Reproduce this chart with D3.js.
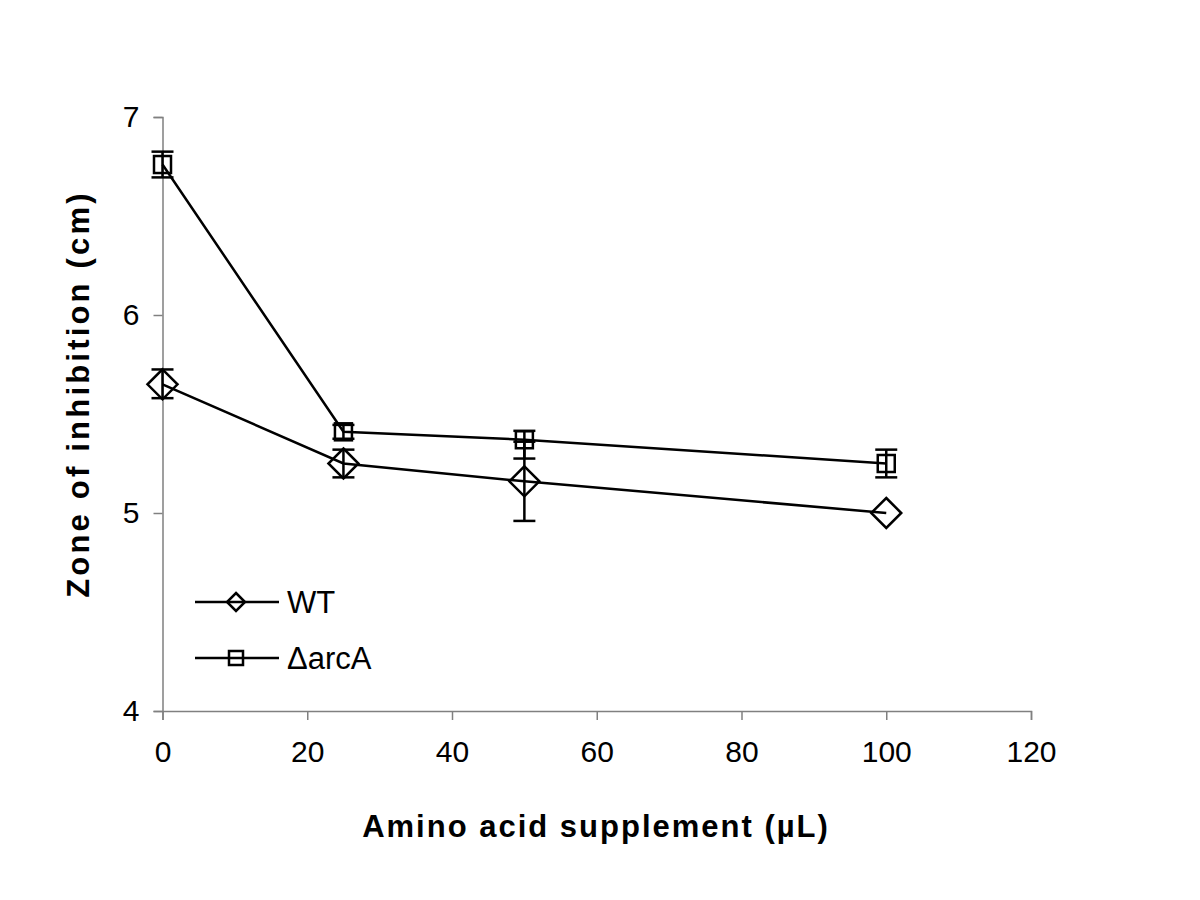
<!DOCTYPE html>
<html><head><meta charset="utf-8">
<script src="https://cdn.jsdelivr.net/npm/d3@7"></script>
<style>body{margin:0;background:#fff}</style>
</head><body>
<script>
const xValues = [0, 25, 50, 100];
const wtValues = [5.65, 5.25, 5.16, 5.00];
const wtErrPlus = [0.075, 0.07, 0.20, 0.0];
const wtErrMinus = [0.07, 0.07, 0.20, 0.0];
const arcValues = [6.76, 5.41, 5.37, 5.25];
const arcErrPlus = [0.065, 0.035, 0.045, 0.07];
const arcErrMinus = [0.065, 0.035, 0.095, 0.07];
const xTicks = [0, 20, 40, 60, 80, 100, 120];
const yTicks = [4, 5, 6, 7];
const seriesNames = ["WT", "\u0394arcA"];

const W = 1200, H = 900;
const svg = d3.select("body").append("svg").attr("width", W).attr("height", H);
const x = d3.scaleLinear().domain([0, 120]).range([162.5, 1031]);
const y = d3.scaleLinear().domain([4, 7]).range([711, 117]);
const font = "'Liberation Sans', Arial, sans-serif";
const axisColor = "#808080";

const xAxis = svg.append("g").attr("transform", "translate(0,711)")
  .call(d3.axisBottom(x).tickValues(xTicks).tickSize(9).tickPadding(21).tickFormat(d3.format("d")));
const yAxis = svg.append("g").attr("transform", "translate(162.5,0)")
  .call(d3.axisLeft(y).tickValues(yTicks).tickSize(9).tickPadding(14).tickFormat(d3.format("d")));
[xAxis, yAxis].forEach(g => {
  g.select(".domain").attr("stroke", axisColor).attr("stroke-width", 1.5);
  g.selectAll(".tick line").attr("stroke", axisColor).attr("stroke-width", 1.5);
  g.selectAll(".tick text").attr("fill", "#000").style("font-family", font).style("font-size", "30px");
});
xAxis.selectAll(".tick text").attr("dy", "0.71em");

svg.append("text").attr("x", 596).attr("y", 837).attr("text-anchor", "middle")
  .style("font-family", font).style("font-size", "31px").style("font-weight", "bold")
  .style("letter-spacing", "2px").text("Amino acid supplement (\u00b5L)");
svg.append("text").attr("transform", "translate(89,394) rotate(-90)").attr("text-anchor", "middle")
  .style("font-family", font).style("font-size", "31px").style("font-weight", "bold")
  .style("letter-spacing", "3.2px").text("Zone of inhibition (cm)");

const series = [
  {name: seriesNames[0], vals: wtValues, ep: wtErrPlus, em: wtErrMinus, marker: "diamond"},
  {name: seriesNames[1], vals: arcValues, ep: arcErrPlus, em: arcErrMinus, marker: "square"}
];
const line = d3.line().x(d => x(d[0])).y(d => y(d[1]));
const capHalf = 11;

function drawMarker(g, cx, cy, type, size) {
  if (type === "diamond") {
    g.append("path").attr("d", `M${cx},${cy - size}L${cx + size},${cy}L${cx},${cy + size}L${cx - size},${cy}Z`)
      .attr("fill", "none").attr("stroke", "#000").attr("stroke-width", 2.5);
  } else {
    g.append("rect").attr("x", cx - size).attr("y", cy - size).attr("width", 2 * size).attr("height", 2 * size)
      .attr("fill", "none").attr("stroke", "#000").attr("stroke-width", 2.5);
  }
}

series.forEach(s => {
  const pts = xValues.map((xv, i) => [xv, s.vals[i]]);
  svg.append("path").datum(pts).attr("d", line).attr("fill", "none").attr("stroke", "#000").attr("stroke-width", 2.5);
  const g = svg.append("g");
  pts.forEach((p, i) => {
    const cx = x(p[0]);
    const top = y(p[1] + s.ep[i]), bot = y(p[1] - s.em[i]);
    if (s.ep[i] > 0 || s.em[i] > 0) {
      g.append("line").attr("x1", cx).attr("x2", cx).attr("y1", top).attr("y2", bot).attr("stroke", "#000").attr("stroke-width", 2.5);
      [top, bot].forEach(yy => g.append("line").attr("x1", cx - capHalf).attr("x2", cx + capHalf)
        .attr("y1", yy).attr("y2", yy).attr("stroke", "#000").attr("stroke-width", 2.5));
    }
    drawMarker(g, cx, y(p[1]), s.marker, s.marker === "diamond" ? 15 : 8.5);
  });
});

// legend
const legY = [602, 658];
series.forEach((s, i) => {
  const ly = legY[i];
  svg.append("line").attr("x1", 195).attr("x2", 279).attr("y1", ly).attr("y2", ly).attr("stroke", "#000").attr("stroke-width", 2.5);
  drawMarker(svg, 236, ly, s.marker, s.marker === "diamond" ? 9 : 7);
  svg.append("text").attr("x", 287).attr("y", ly + 11).style("font-family", font).style("font-size", "31px").text(s.name);
});
</script>
</body></html>
